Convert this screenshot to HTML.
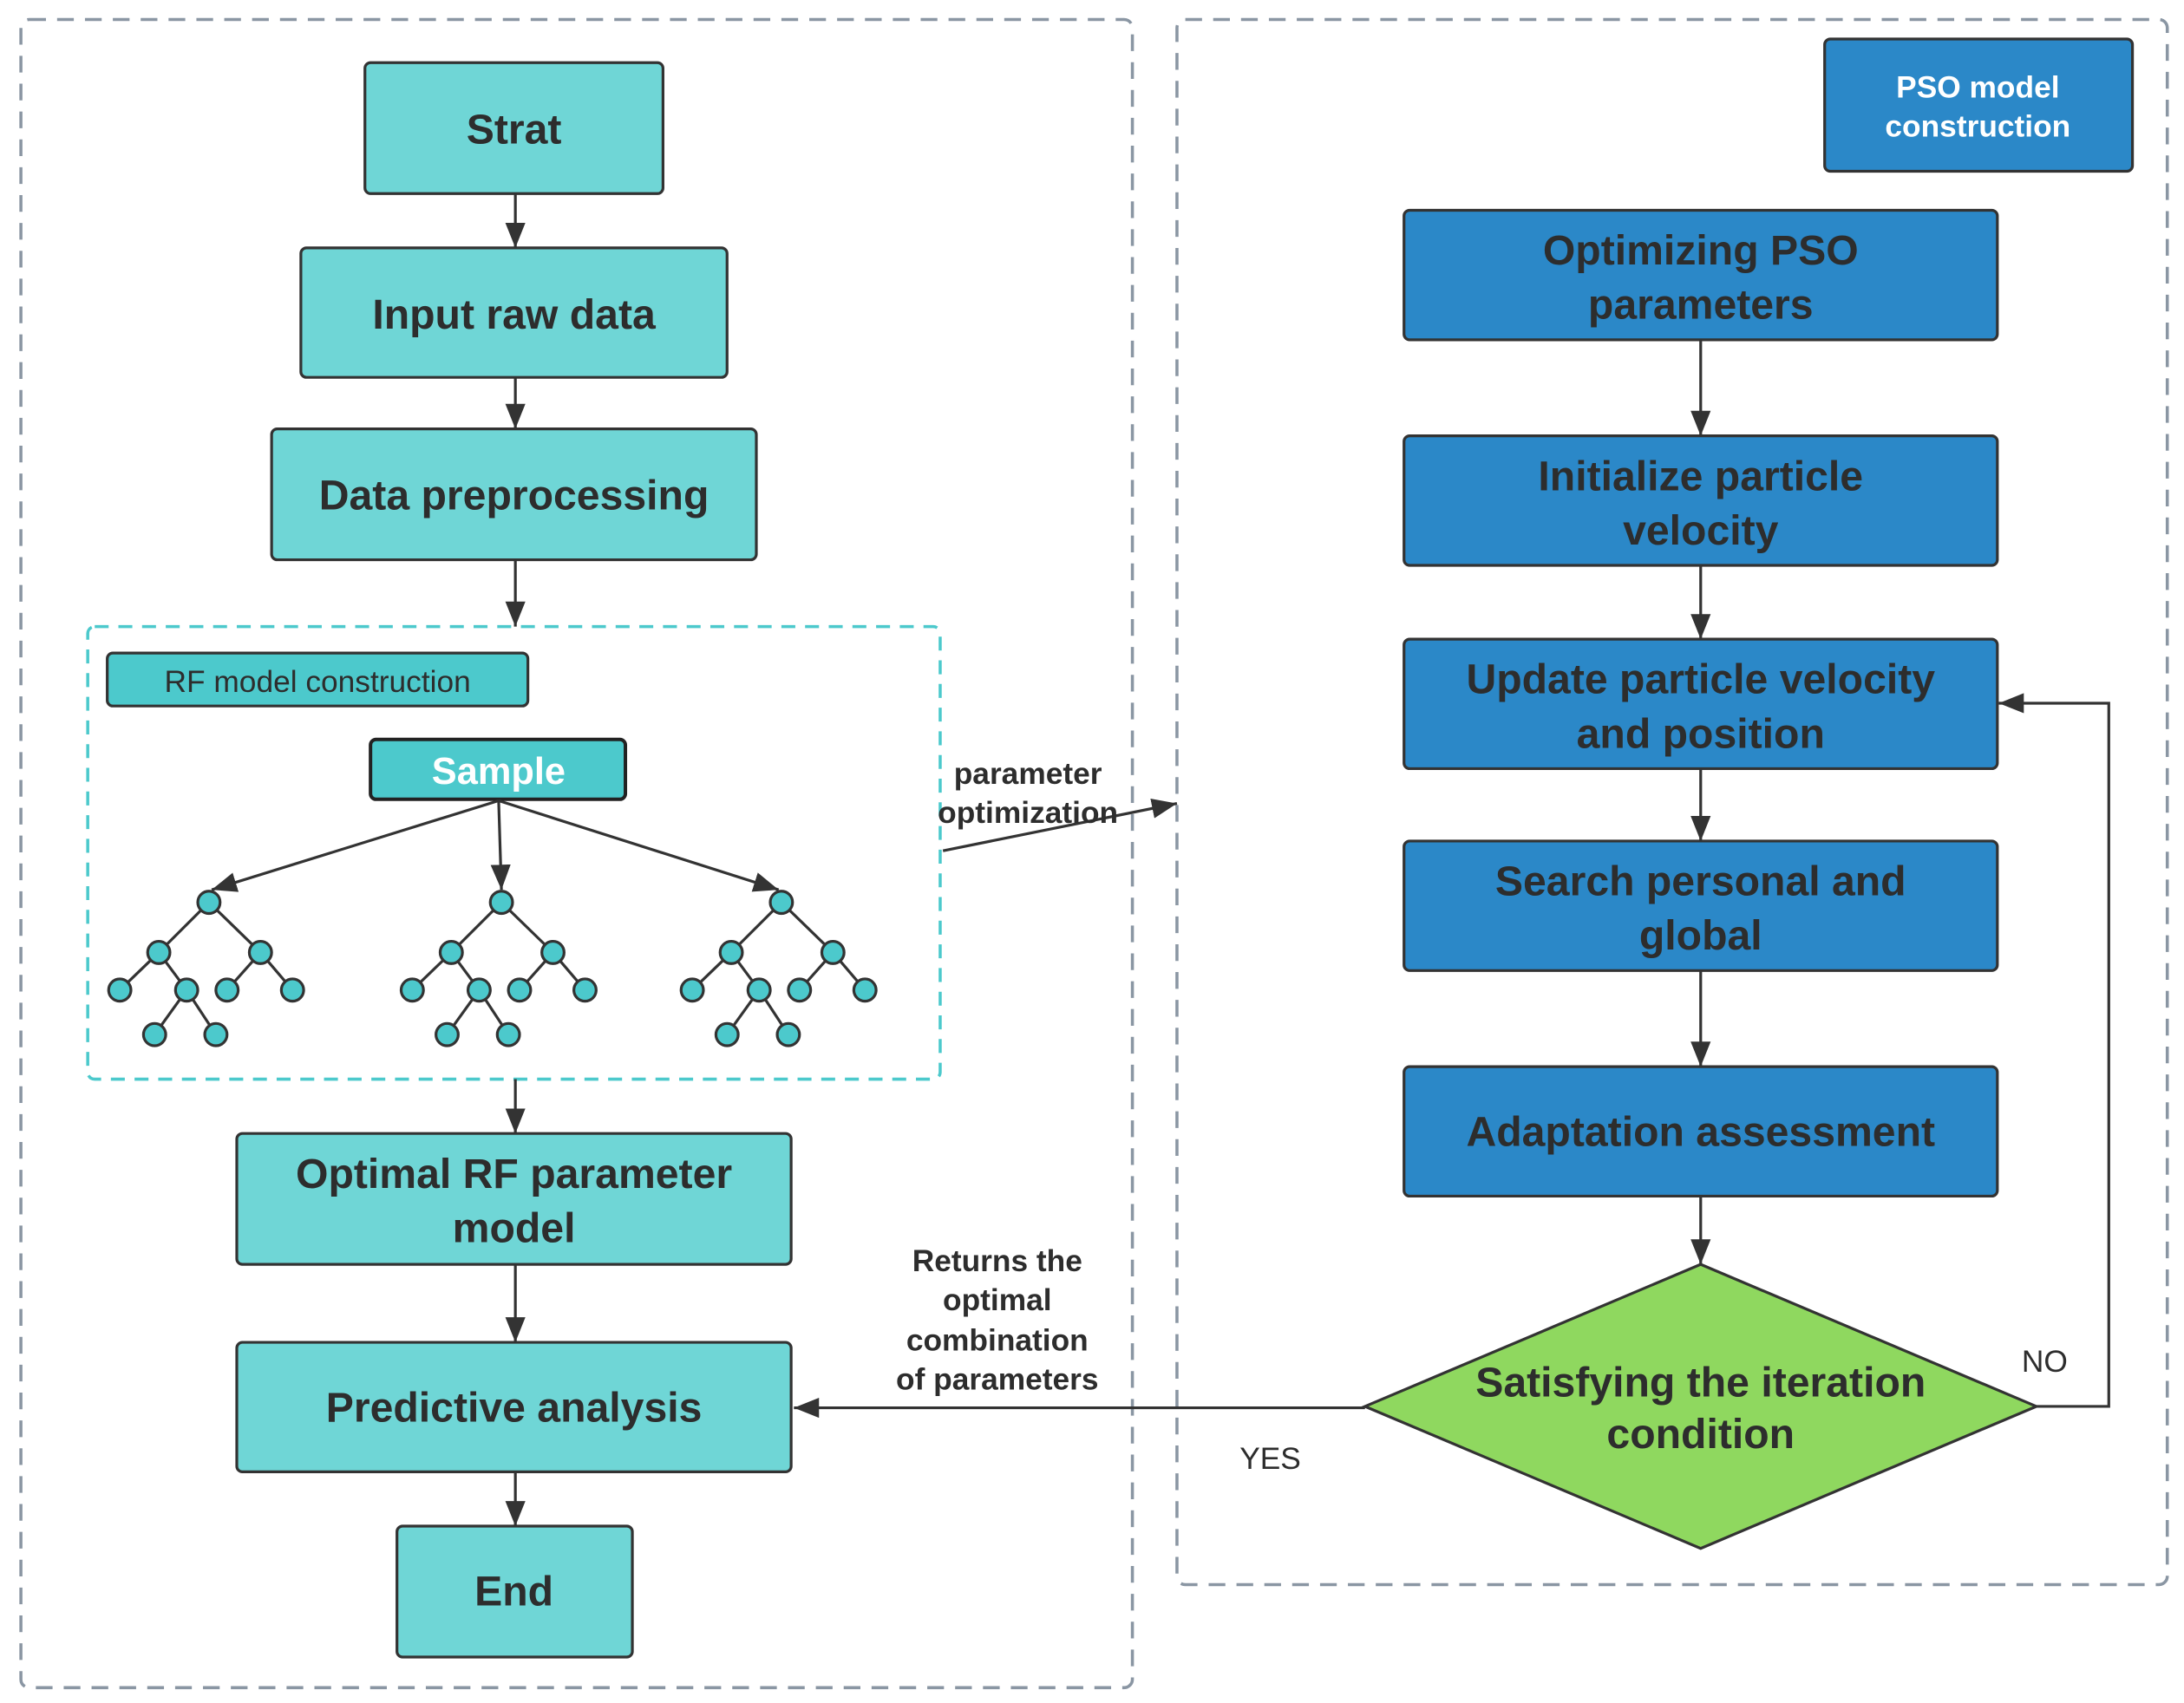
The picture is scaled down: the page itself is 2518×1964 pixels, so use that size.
<!DOCTYPE html>
<html><head><meta charset="utf-8"><style>
html,body{margin:0;padding:0;background:#fff;}
svg{display:block;}
text{font-family:"Liberation Sans",sans-serif;}
</style></head><body>
<svg width="2518" height="1964" viewBox="0 0 1568 1223" xmlns="http://www.w3.org/2000/svg">
<defs>
<marker id="b" viewBox="0 0 10 10" refX="10" refY="5" markerWidth="18" markerHeight="18" markerUnits="userSpaceOnUse" orient="auto"><path d="M0,1 L10,5 L0,9 z" fill="#333"/></marker>
<g id="t" stroke="#333" stroke-width="2" fill="#4cc9cc">
<line x1="0" y1="0" x2="-36" y2="36"/><line x1="0" y1="0" x2="37" y2="36"/>
<line x1="-36" y1="36" x2="-64" y2="63"/><line x1="-36" y1="36" x2="-16" y2="63"/>
<line x1="37" y1="36" x2="13" y2="63"/><line x1="37" y1="36" x2="60" y2="63"/>
<line x1="-16" y1="63" x2="-39" y2="95"/><line x1="-16" y1="63" x2="5" y2="95"/>
<circle cx="0" cy="0" r="8"/><circle cx="-36" cy="36" r="8"/><circle cx="37" cy="36" r="8"/>
<circle cx="-64" cy="63" r="8"/><circle cx="-16" cy="63" r="8"/><circle cx="13" cy="63" r="8"/><circle cx="60" cy="63" r="8"/>
<circle cx="-39" cy="95" r="8"/><circle cx="5" cy="95" r="8"/>
</g>
</defs>
<rect width="1568" height="1223" fill="#fff"/>
<g fill="none" stroke="#8a96a3" stroke-width="2.2" stroke-dasharray="12,8">
<rect x="15" y="14" width="798" height="1198" rx="6"/>
<rect x="845" y="14" width="711" height="1124" rx="6"/>
</g>
<rect x="63" y="450" width="612" height="325" rx="5" fill="none" stroke="#4cc9cc" stroke-width="2.2" stroke-dasharray="10,7"/>
<g stroke="#333" stroke-width="2" fill="#6fd6d6">
<rect x="262" y="45" width="214" height="94" rx="4"/>
<rect x="216" y="178" width="306" height="93" rx="4"/>
<rect x="195" y="308" width="348" height="94" rx="4"/>
<rect x="170" y="814" width="398" height="94" rx="4"/>
<rect x="170" y="964" width="398" height="93" rx="4"/>
<rect x="285" y="1096" width="169" height="94" rx="4"/>
</g>
<rect x="77" y="469" width="302" height="38" rx="4" fill="#4cc9cc" stroke="#333" stroke-width="2"/>
<rect x="266" y="531" width="183" height="43" rx="4" fill="#4cc9cc" stroke="#222" stroke-width="2.5"/>
<g stroke="#333" stroke-width="2" fill="#2b88c8">
<rect x="1310" y="28" width="221" height="95" rx="4"/>
<rect x="1008" y="151" width="426" height="93" rx="4"/>
<rect x="1008" y="313" width="426" height="93" rx="4"/>
<rect x="1008" y="459" width="426" height="93" rx="4"/>
<rect x="1008" y="604" width="426" height="93" rx="4"/>
<rect x="1008" y="766" width="426" height="93" rx="4"/>
</g>
<polygon points="1221,908 1462,1010 1221,1112 980,1010" fill="#8fd85f" stroke="#333" stroke-width="2"/>
<g stroke="#333" stroke-width="2" fill="none" marker-end="url(#b)">
<line x1="370" y1="139" x2="370" y2="178"/>
<line x1="370" y1="271" x2="370" y2="308"/>
<line x1="370" y1="402" x2="370" y2="450"/>
<line x1="370" y1="775" x2="370" y2="814"/>
<line x1="370" y1="908" x2="370" y2="964"/>
<line x1="370" y1="1057" x2="370" y2="1096"/>
<line x1="1221" y1="244" x2="1221" y2="313"/>
<line x1="1221" y1="406" x2="1221" y2="459"/>
<line x1="1221" y1="552" x2="1221" y2="604"/>
<line x1="1221" y1="697" x2="1221" y2="766"/>
<line x1="1221" y1="859" x2="1221" y2="908"/>
<polyline points="1462,1010 1514,1010 1514,505 1435,505"/>
<line x1="980" y1="1011" x2="570" y2="1011"/>
<line x1="677" y1="611" x2="845" y2="577"/>
<line x1="358" y1="575" x2="152" y2="639"/>
<line x1="358" y1="575" x2="360" y2="639"/>
<line x1="358" y1="575" x2="559" y2="639"/>
</g>
<use href="#t" transform="translate(150,648)"/>
<use href="#t" transform="translate(360,648)"/>
<use href="#t" transform="translate(561,648)"/>
<g font-weight="bold" fill="#2d2d2d" font-size="30" text-anchor="middle">
<text x="369" y="103">Strat</text>
<text x="369" y="236">Input raw data</text>
<text x="369" y="366">Data preprocessing</text>
<text x="369" y="853">Optimal RF parameter</text>
<text x="369" y="892">model</text>
<text x="369" y="1021">Predictive analysis</text>
<text x="369" y="1153">End</text>
<text x="1221" y="190">Optimizing PSO</text>
<text x="1221" y="229">parameters</text>
<text x="1221" y="352">Initialize particle</text>
<text x="1221" y="391">velocity</text>
<text x="1221" y="498">Update particle velocity</text>
<text x="1221" y="537">and position</text>
<text x="1221" y="643">Search personal and</text>
<text x="1221" y="682">global</text>
<text x="1221" y="823">Adaptation assessment</text>
<text x="1221" y="1003">Satisfying the iteration</text>
<text x="1221" y="1040">condition</text>
</g>
<text x="358" y="563" font-size="27" font-weight="bold" fill="#fff" text-anchor="middle">Sample</text>
<g font-size="22" font-weight="bold" fill="#fff" text-anchor="middle">
<text x="1420" y="70">PSO model</text>
<text x="1420" y="98">construction</text>
</g>
<text x="228" y="497" font-size="22" fill="#2d2d2d" text-anchor="middle">RF model construction</text>
<g font-size="22" font-weight="bold" fill="#2d2d2d" text-anchor="middle">
<text x="738" y="563">parameter</text>
<text x="738" y="591">optimization</text>
<text x="716" y="913">Returns the</text>
<text x="716" y="941">optimal</text>
<text x="716" y="970">combination</text>
<text x="716" y="998">of parameters</text>
</g>
<g font-size="22" fill="#2d2d2d" text-anchor="middle">
<text x="912" y="1055">YES</text>
<text x="1468" y="985">NO</text>
</g>
</svg>
</body></html>
